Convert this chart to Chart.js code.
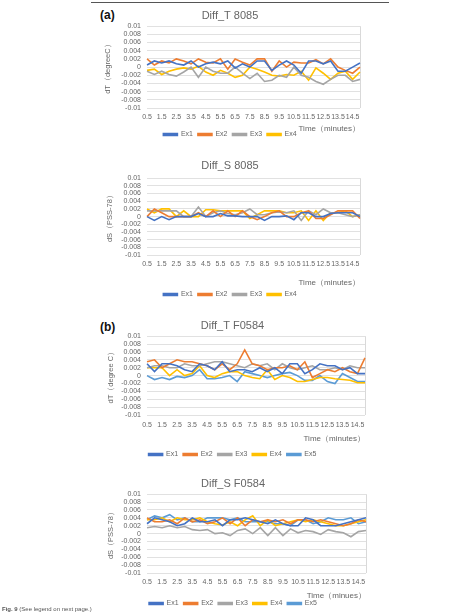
<!DOCTYPE html>
<html lang="en">
<head>
<meta charset="UTF-8">
<title>Fig. 9 Diff_T / Diff_S</title>
<script src="https://cdn.jsdelivr.net/npm/chart.js"></script>
<style>
    body {
        margin: 0;
        width: 476px;
        height: 616px;
        overflow: hidden;
        background: #fff;
        position: relative;
        font-family: 'Noto Sans CJK SC', 'DejaVu Sans', sans-serif;
    }
    canvas {
        position: absolute;
        left: 0;
    }
    .panel {
        position: absolute;
        font-family: 'Liberation Sans', Arial, sans-serif;
        font-weight: bold;
        font-size: 12px;
        color: #111;
    }
    .topline {
        position: absolute;
        top: 2px;
        left: 91px;
        width: 298px;
        height: 1px;
        background: #555;
    }
    .caption {
        position: absolute;
        left: 2px;
        top: 606px;
        font-family: 'Liberation Sans', Arial, sans-serif;
        font-size: 6px;
        color: #555;
    }
</style>
</head>
<body>
<div class="topline"></div>
<div class="panel" style="left:100px; top:8px;">(a)</div>
<div class="panel" style="left:100px; top:320px;">(b)</div>
<canvas id="t8085" width="476" height="148" style="top:0px;"></canvas>
<canvas id="s8085" width="476" height="158" style="top:150px;"></canvas>
<canvas id="tF0584" width="476" height="163" style="top:305px;"></canvas>
<canvas id="sF0584" width="476" height="152" style="top:465px;"></canvas>
<div class="caption"><b>Fig. 9</b> (See legend on next page.)</div>
<script>
    const timeLabels = ['0.5', '1', '1.5', '2', '2.5', '3', '3.5', '4', '4.5', '5',
        '5.5', '6', '6.5', '7', '7.5', '8', '8.5', '9', '9.5', '10',
        '10.5', '11', '11.5', '12', '12.5', '13', '13.5', '14', '14.5', '15'];
    const exNames = ['Ex1', 'Ex2', 'Ex3', 'Ex4', 'Ex5'];
    const exColors = ['#4472c4', '#ed7d31', '#a5a5a5', '#ffc000', '#5b9bd5'];

    // Diff_T 8085
    const t8085Ex1 = [0.0005, 0.0015, 0.001, 0.0015, 0.0008, 0.0005, 0.0015, 0.0, 0.0008, 0.0012,
        0.0008, 0.0015, -0.0002, 0.0008, 0.0, 0.0015, 0.0015, -0.0008, 0.0005, 0.0015,
        0.0005, -0.0015, 0.0015, 0.0015, 0.0008, 0.0015, -0.001, -0.001, 0.0, 0.001];
    const t8085Ex2 = [0.002, 0.0005, 0.0015, 0.001, 0.002, 0.0015, 0.0008, 0.002, 0.0012, 0.001,
        0.002, -0.0005, 0.002, 0.0012, 0.0005, 0.002, 0.002, -0.001, 0.0015, 0.0,
        0.0012, 0.001, 0.001, 0.0018, 0.0008, 0.002, 0.0, -0.0008, -0.0015, 0.0];
    const t8085Ex3 = [-0.001, -0.0018, -0.001, -0.0018, -0.0022, -0.0012, 0.0, -0.0025, 0.0, -0.001,
        -0.0015, -0.0015, 0.0, -0.0015, -0.0028, -0.0015, -0.0035, -0.0032, -0.002, -0.0025,
        0.0, -0.002, -0.0025, -0.0035, -0.0042, -0.003, -0.002, -0.002, -0.0035, -0.003];
    const t8085Ex4 = [-0.0008, -0.0005, -0.0018, -0.001, -0.0005, -0.0002, -0.0005, 0.0002, -0.0012, -0.002,
        -0.0008, -0.0015, -0.0025, -0.002, 0.0, -0.0005, -0.0012, -0.002, -0.0022, -0.0018,
        -0.002, -0.001, -0.0032, -0.0002, -0.0015, -0.003, -0.0015, -0.001, -0.003, -0.0012];

    // Diff_S 8085
    const s8085Ex1 = [0.0, -0.001, 0.0, -0.0008, 0.0, 0.0, 0.0, 0.0008, 0.0, 0.0,
        0.0008, 0.0002, 0.0002, 0.0, 0.0, 0.0, -0.001, 0.0, 0.0, 0.0002,
        -0.0008, 0.001, 0.001, 0.0, 0.0, 0.0008, 0.001, 0.001, 0.001, 0.0];
    const s8085Ex2 = [0.0, 0.002, 0.001, 0.0, 0.0, 0.0, 0.0, 0.001, 0.0, 0.0015,
        0.0, 0.0015, 0.0, 0.0015, 0.0, -0.0008, 0.0, 0.001, 0.0015, 0.0,
        0.0, 0.001, 0.0015, -0.0005, -0.0005, 0.0005, 0.0015, 0.0015, 0.0015, -0.0005];
    const s8085Ex3 = [0.0015, 0.0015, 0.0015, 0.0015, 0.0015, 0.0, 0.0, 0.0025, 0.0, 0.001,
        0.0015, 0.0008, 0.0005, 0.001, 0.002, 0.0005, 0.0005, 0.001, 0.0012, 0.001,
        0.0015, -0.001, 0.0015, 0.0005, 0.002, 0.001, 0.001, 0.0005, 0.0, 0.0005];
    const s8085Ex4 = [0.002, 0.001, 0.002, 0.002, 0.0, 0.0015, 0.0, 0.0, 0.0018, 0.0018,
        0.0015, 0.0015, 0.0015, 0.0015, -0.0005, 0.0005, 0.0015, 0.0015, 0.0015, 0.001,
        0.001, 0.0015, -0.001, 0.0015, -0.001, 0.001, 0.001, 0.0015, 0.0, 0.0005];

    // Diff_T F0584
    const tF0584Ex1 = [0.003, 0.001, 0.003, 0.003, 0.0025, 0.0015, 0.001, 0.003, 0.0025, 0.0015,
        0.0035, 0.001, 0.0015, 0.0015, 0.001, 0.002, 0.001, 0.002, 0.0005, 0.003,
        0.003, 0.0005, 0.0015, 0.003, 0.0025, 0.0025, 0.0015, 0.002, 0.0005, 0.0005];
    const tF0584Ex2 = [0.0035, 0.004, 0.002, 0.003, 0.004, 0.0035, 0.0035, 0.003, 0.0025, 0.0015,
        0.003, 0.0015, 0.003, 0.0065, 0.003, 0.0025, 0.0015, 0.002, 0.002, 0.0025,
        0.0015, 0.0035, -0.0005, 0.0005, 0.0015, 0.001, 0.002, 0.001, 0.0005, 0.0045];
    const tF0584Ex3 = [0.002, 0.0025, 0.0025, 0.002, 0.002, 0.003, 0.0025, 0.0025, 0.003, 0.0035,
        0.0035, 0.003, 0.0025, 0.002, 0.003, 0.0025, 0.003, 0.0015, 0.003, 0.002,
        0.0015, 0.002, 0.0025, 0.0015, 0.0015, 0.002, 0.0015, 0.0025, 0.002, 0.002];
    const tF0584Ex4 = [0.002, 0.002, 0.002, 0.0, 0.0015, 0.0, 0.0005, 0.0025, 0.0, -0.0005,
        0.0005, 0.001, 0.001, 0.0, -0.0005, -0.0008, 0.0015, -0.001, 0.0, -0.0005,
        -0.0015, -0.0015, -0.001, -0.0005, -0.0005, -0.0008, -0.001, -0.0012, -0.0018, -0.0018];
    const tF0584Ex5 = [0.0, -0.001, -0.0005, -0.001, -0.0002, -0.0005, 0.0, 0.0015, -0.0008, -0.0008,
        -0.0005, 0.0, -0.0015, 0.001, 0.0005, 0.0, -0.0005, 0.0, 0.0005, 0.0008,
        0.0, -0.0012, -0.0012, 0.0, -0.0015, -0.002, 0.0005, -0.0005, -0.0015, -0.0015];

    // Diff_S F0584
    const sF0584Ex1 = [0.0025, 0.004, 0.0035, 0.003, 0.002, 0.0025, 0.004, 0.003, 0.003, 0.0035,
        0.002, 0.0035, 0.0035, 0.004, 0.0035, 0.003, 0.0025, 0.0035, 0.0025, 0.002,
        0.002, 0.004, 0.0035, 0.002, 0.002, 0.002, 0.0025, 0.003, 0.0035, 0.004];
    const sF0584Ex2 = [0.004, 0.003, 0.003, 0.0035, 0.0025, 0.004, 0.003, 0.0035, 0.0025, 0.003,
        0.004, 0.0025, 0.004, 0.002, 0.0035, 0.003, 0.0035, 0.003, 0.0035, 0.0025,
        0.0035, 0.0035, 0.003, 0.0035, 0.003, 0.0025, 0.002, 0.0025, 0.0035, 0.003];
    const sF0584Ex3 = [0.0015, 0.0018, 0.0015, 0.002, 0.0015, 0.0018, 0.001, 0.0008, 0.001, 0.0,
        0.0002, -0.0005, 0.0008, 0.0012, 0.0, 0.0015, -0.0005, 0.0015, -0.0005, 0.0012,
        0.0002, 0.0008, 0.0005, -0.0002, 0.001, 0.0005, 0.0002, -0.0008, 0.0005, 0.0008];
    const sF0584Ex4 = [0.0035, 0.0035, 0.004, 0.003, 0.004, 0.0035, 0.0035, 0.004, 0.003, 0.0025,
        0.0022, 0.003, 0.002, 0.0035, 0.0045, 0.002, 0.0035, 0.002, 0.0025, 0.003,
        0.0035, 0.003, 0.0035, 0.003, 0.0025, 0.002, 0.002, 0.0025, 0.003, 0.0035];
    const sF0584Ex5 = [0.0035, 0.0045, 0.004, 0.0048, 0.0035, 0.004, 0.003, 0.003, 0.004, 0.004,
        0.004, 0.0035, 0.004, 0.003, 0.003, 0.003, 0.003, 0.0025, 0.0025, 0.002,
        0.0035, 0.0035, 0.0025, 0.003, 0.004, 0.0035, 0.0035, 0.004, 0.0025, 0.003];

    const textColor = '#666666';
    const gridColor = '#d9d9d9';

    function drawPanel(canvasId, title, yTitle, xTitle, series, lay) {
        new Chart(document.getElementById(canvasId), {
            type: 'line',
            data: {
                labels: timeLabels,
                datasets: series.map((values, i) => ({
                    label: exNames[i],
                    data: values,
                    borderColor: exColors[i],
                    backgroundColor: exColors[i],
                    borderWidth: 1.6,
                    pointRadius: 0,
                    tension: 0,
                    fill: false
                }))
            },
            options: {
                responsive: false,
                animation: false,
                layout: {padding: {left: 100, right: 476 - lay.plotRight, top: 0, bottom: 0}},
                plugins: {
                    title: {
                        display: true, text: title, color: textColor,
                        font: {size: 11, weight: 'normal'},
                        padding: {top: lay.titleTop, bottom: lay.titleBottom}
                    },
                    legend: {
                        position: 'bottom',
                        labels: {boxWidth: 14, boxHeight: 2, padding: 5, color: textColor, font: {size: 7}}
                    },
                    tooltip: {enabled: false}
                },
                scales: {
                    x: {
                        grid: {
                            drawTicks: false,
                            color: ctx => ctx.index === timeLabels.length - 1 ? gridColor : 'rgba(0,0,0,0)'
                        },
                        border: {display: false},
                        ticks: {
                            autoSkip: false, maxRotation: 0, minRotation: 0,
                            padding: lay.tickPad, color: textColor, font: {size: 7},
                            callback: (v, i) => i % 2 === 0 ? timeLabels[i] : ''
                        },
                        title: {
                            display: true, text: xTitle, align: 'end', color: textColor,
                            font: {size: 8}, padding: {top: lay.xtTop, bottom: lay.xtBottom}
                        }
                    },
                    y: {
                        min: -0.01,
                        max: 0.01,
                        afterFit: scale => { scale.width = lay.plotLeft - 100; },
                        grid: {drawTicks: false, color: gridColor, lineWidth: 0.8},
                        border: {display: false},
                        ticks: {
                            autoSkip: false,
                            stepSize: 0.002, padding: 6, color: textColor, font: {size: 7},
                            callback: v => String(Number(v.toFixed(3)))
                        },
                        title: {
                            display: true, text: yTitle, color: textColor,
                            font: {size: 7.5}, padding: {top: lay.ytPad, bottom: 0}
                        }
                    }
                }
            }
        });
    }

    drawPanel('t8085', 'Diff_T 8085', 'dT（degreeC）', 'Time（minutes）',
        [t8085Ex1, t8085Ex2, t8085Ex3, t8085Ex4],
        {plotLeft: 147, plotRight: 360, titleTop: 9, titleBottom: 4, tickPad: 5, xtTop: -2, xtBottom: -8, ytPad: 3});

    drawPanel('s8085', 'Diff_S 8085', 'dS（PSS-78）', 'Time（minutes）',
        [s8085Ex1, s8085Ex2, s8085Ex3, s8085Ex4],
        {plotLeft: 147, plotRight: 360, titleTop: 9, titleBottom: 6, tickPad: 5, xtTop: 5, xtBottom: -2, ytPad: 5});

    drawPanel('tF0584', 'Diff_T F0584', 'dT（degree C）', 'Time（minutes）',
        [tF0584Ex1, tF0584Ex2, tF0584Ex3, tF0584Ex4, tF0584Ex5],
        {plotLeft: 147, plotRight: 365, titleTop: 14, titleBottom: 4, tickPad: 6, xtTop: -1, xtBottom: 2, ytPad: 6});

    drawPanel('sF0584', 'Diff_S F0584', 'dS（PSS-78）', 'Time（minues）',
        [sF0584Ex1, sF0584Ex2, sF0584Ex3, sF0584Ex4, sF0584Ex5],
        {plotLeft: 147, plotRight: 366, titleTop: 12, titleBottom: 4, tickPad: 5, xtTop: 0, xtBottom: -6, ytPad: 6});
</script>
</body>
</html>
